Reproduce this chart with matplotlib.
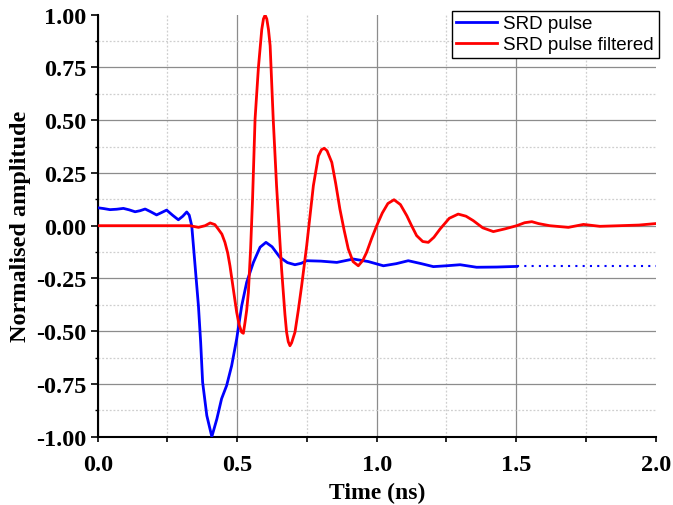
import matplotlib
matplotlib.use("Agg")
import matplotlib.pyplot as plt
from matplotlib.ticker import MultipleLocator, FormatStrFormatter

# --- data ---
t_blue = [0.0, 0.022, 0.044, 0.068, 0.092, 0.113, 0.134, 0.152, 0.17, 0.19, 0.211, 0.23,
          0.247, 0.268, 0.289, 0.305, 0.319, 0.328, 0.337, 0.349, 0.361, 0.369, 0.376,
          0.391, 0.409, 0.427, 0.444, 0.462, 0.48, 0.498, 0.516, 0.534, 0.558, 0.582,
          0.603, 0.625, 0.653, 0.68, 0.707, 0.73, 0.749, 0.80, 0.857, 0.916, 0.97,
          1.024, 1.07, 1.113, 1.16, 1.203, 1.25, 1.299, 1.358, 1.43, 1.502]
y_blue = [0.085, 0.081, 0.076, 0.078, 0.082, 0.075, 0.066, 0.071, 0.079, 0.066, 0.051,
          0.063, 0.074, 0.05, 0.028, 0.045, 0.065, 0.05, 0.0, -0.19, -0.38, -0.553, -0.742,
          -0.9, -1.0, -0.916, -0.82, -0.758, -0.664, -0.537, -0.38, -0.268, -0.174, -0.102,
          -0.079, -0.1, -0.15, -0.175, -0.185, -0.178, -0.166, -0.168, -0.174, -0.158,
          -0.17, -0.19, -0.18, -0.166, -0.18, -0.194, -0.19, -0.185, -0.197, -0.196, -0.193]

t_blue_ext = [1.502, 2.0]
y_blue_ext = [-0.193, -0.193]

t_red = [0.0, 0.27, 0.33, 0.361, 0.385, 0.403, 0.42, 0.432, 0.445, 0.456, 0.466, 0.474,
         0.486, 0.498, 0.507, 0.516, 0.522, 0.528, 0.534, 0.54, 0.548, 0.555, 0.564, 0.576,
         0.588, 0.594, 0.60, 0.606, 0.612, 0.618, 0.629, 0.641, 0.659, 0.671, 0.677, 0.683,
         0.689, 0.695, 0.701, 0.707, 0.719, 0.731, 0.749, 0.773, 0.791, 0.802, 0.812,
         0.822, 0.839, 0.853, 0.868, 0.883, 0.898, 0.915, 0.934, 0.95, 0.964, 0.982, 1.0,
         1.02, 1.04, 1.062, 1.085, 1.108, 1.125, 1.143, 1.165, 1.185, 1.205, 1.227, 1.26,
         1.292, 1.32, 1.346, 1.38, 1.418, 1.46, 1.502, 1.53, 1.556, 1.58, 1.62, 1.687,
         1.741, 1.80, 1.872, 1.94, 2.0]
y_red = [0.0, 0.0, 0.0, -0.008, 0.0, 0.013, 0.005, -0.016, -0.04, -0.079, -0.13, -0.19,
         -0.30, -0.41, -0.47, -0.505, -0.51, -0.458, -0.4, -0.316, -0.11, 0.127, 0.506, 0.75,
         0.93, 0.98, 0.998, 0.98, 0.93, 0.853, 0.506, 0.19, -0.205, -0.42, -0.505, -0.55,
         -0.569, -0.555, -0.53, -0.505, -0.4, -0.284, -0.095, 0.19, 0.33, 0.36, 0.367,
         0.355, 0.30, 0.2, 0.079, -0.02, -0.11, -0.17, -0.19, -0.165, -0.126, -0.06, 0.0,
         0.06, 0.105, 0.123, 0.1, 0.047, 0.0, -0.047, -0.075, -0.079, -0.055, -0.016, 0.035,
         0.055, 0.045, 0.024, -0.01, -0.028, -0.015, 0.0, 0.014, 0.019, 0.01, 0.0, -0.008,
         0.006, -0.003, 0.0, 0.003, 0.01]

labels = ["SRD pulse", "SRD pulse filtered"]

fig = plt.figure(figsize=(6.73, 5.06), dpi=100)
ax = fig.add_axes([0.1452, 0.135, 0.8291, 0.834])

ax.plot(t_blue, y_blue, color="#0000FF", lw=2.0, label=labels[0], zorder=3)
ax.plot(t_blue_ext, y_blue_ext, color="#0000FF", lw=1.5, ls=(0, (1, 2.5)), zorder=3)
ax.plot(t_red, y_red, color="#FF0000", lw=2.0, label=labels[1], zorder=4)

ax.set_xlim(0, 2.0)
ax.set_ylim(-1.0, 1.0)
ax.xaxis.set_major_locator(MultipleLocator(0.5))
ax.xaxis.set_minor_locator(MultipleLocator(0.25))
ax.yaxis.set_major_locator(MultipleLocator(0.25))
ax.yaxis.set_minor_locator(MultipleLocator(0.125))
ax.xaxis.set_major_formatter(FormatStrFormatter("%.1f"))
ax.yaxis.set_major_formatter(FormatStrFormatter("%.2f"))

ax.grid(True, which="major", color="#8c8c8c", lw=0.9, ls="-", zorder=0)
ax.grid(True, which="minor", color="#cfcfcf", lw=0.9, ls=(0, (1.5, 1.5)), zorder=0)
ax.set_axisbelow(True)

for sp in ["top", "right"]:
    ax.spines[sp].set_visible(False)
for sp in ["left", "bottom"]:
    ax.spines[sp].set_linewidth(1.5)
    ax.spines[sp].set_color("black")

ax.tick_params(axis="y", which="major", direction="out", length=5, width=1.2, pad=3)
ax.tick_params(axis="y", which="minor", direction="out", length=2.5, width=1.0)
ax.tick_params(axis="x", which="both", direction="out", length=3.5, width=1.2, pad=9)
for lab in ax.get_xticklabels() + ax.get_yticklabels():
    lab.set_fontfamily("Liberation Serif")
    lab.set_fontweight("bold")
    lab.set_fontsize(17.5)

# hide gridlines lying on the top / right edges
fig.canvas.draw()
for tk in ax.xaxis.get_major_ticks():
    if abs(tk.get_loc() - 2.0) < 1e-9:
        tk.gridline.set_visible(False)
for tk in ax.yaxis.get_major_ticks():
    if abs(tk.get_loc() - 1.0) < 1e-9:
        tk.gridline.set_visible(False)

ax.set_xlabel("Time (ns)", fontfamily="Liberation Serif", fontweight="bold", fontsize=17, labelpad=5)
ax.set_ylabel("Normalised amplitude", fontfamily="Liberation Serif", fontweight="bold", fontsize=17.5, labelpad=4)

leg = ax.legend(loc="upper right", bbox_to_anchor=(658.5 / 673, 1 - 11.5 / 506),
                bbox_transform=fig.transFigure, fancybox=False, framealpha=1,
                edgecolor="black", prop=dict(family="Liberation Sans", size=13.5),
                handlelength=2.15, handletextpad=0.35, borderpad=0.25, labelspacing=0.2,
                borderaxespad=0)
leg.get_frame().set_linewidth(1.0)

fig.savefig("out.png", dpi=100)
